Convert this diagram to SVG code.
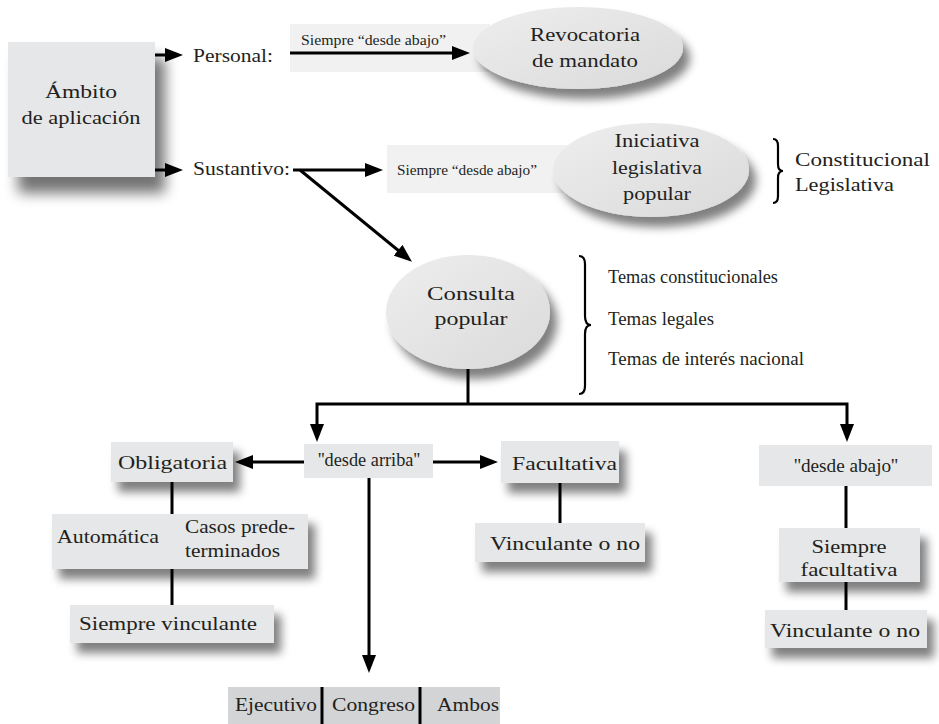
<svg xmlns="http://www.w3.org/2000/svg" width="939" height="724" viewBox="0 0 939 724">
<style>
text{font-family:"Liberation Serif","DejaVu Serif",serif;fill:#231f20;font-size:19px}
.s{font-size:15px}
.t{font-size:18px}
.box{fill:#e6e7e8}
.lbl{fill:#f1f1f2}
.dark{fill:#d3d4d6}
.ell{fill:url(#eg)}
.c{stroke:#000;stroke-width:3;fill:none}
.br{stroke:#000;stroke-width:2.2;fill:none}
.m{text-anchor:middle}
</style>
<defs>
<linearGradient id="eg" x1="0" y1="0" x2="1" y2="1">
<stop offset="0" stop-color="#eeeeef"/>
<stop offset="1" stop-color="#dadadb"/>
</linearGradient>
<filter id="sh" x="-20%" y="-30%" width="150%" height="180%">
<feGaussianBlur in="SourceAlpha" stdDeviation="5"/>
<feOffset dx="7" dy="10"/>
<feComponentTransfer><feFuncA type="linear" slope="0.5"/></feComponentTransfer>
<feMerge><feMergeNode/><feMergeNode in="SourceGraphic"/></feMerge>
</filter>
<filter id="shb" x="-20%" y="-20%" width="160%" height="160%">
<feGaussianBlur in="SourceAlpha" stdDeviation="7"/>
<feOffset dx="10" dy="16"/>
<feComponentTransfer><feFuncA type="linear" slope="0.55"/></feComponentTransfer>
<feMerge><feMergeNode/><feMergeNode in="SourceGraphic"/></feMerge>
</filter>
<marker id="ah" viewBox="0 0 18 14" markerWidth="18" markerHeight="14" refX="9" refY="7" orient="auto-start-reverse" markerUnits="userSpaceOnUse">
<path d="M0,0 L18,7 L0,14 z" fill="#000"/>
</marker>
</defs>
<rect width="939" height="724" fill="#fff"/>

<g id="ambito">
<rect x="8" y="42" width="147" height="135" class="box" filter="url(#shb)"/>
<text x="81" y="98" class="m" textLength="72" lengthAdjust="spacingAndGlyphs">Ámbito</text>
<text x="81" y="124" class="m" textLength="119" lengthAdjust="spacingAndGlyphs">de aplicación</text>
</g>

<g id="personal"><text x="193" y="62" textLength="80" lengthAdjust="spacingAndGlyphs">Personal:</text></g>
<g id="sustantivo"><text x="193" y="175" textLength="97" lengthAdjust="spacingAndGlyphs">Sustantivo:</text></g>

<g id="label-revocatoria">
<rect x="290" y="24" width="200" height="48" class="lbl"/>
<text x="301" y="45" class="s" textLength="145" lengthAdjust="spacingAndGlyphs">Siempre “desde abajo”</text>
</g>
<g id="label-iniciativa">
<rect x="387" y="145" width="180" height="48" class="lbl"/>
<text x="397" y="175" class="s" textLength="140" lengthAdjust="spacingAndGlyphs">Siempre “desde abajo”</text>
</g>

<g id="connectors">
<path class="c" d="M155,55 H174" marker-end="url(#ah)"/>
<path class="c" d="M155,170 H174" marker-end="url(#ah)"/>
<path class="c" d="M290,53 H461" marker-end="url(#ah)"/>
<path class="c" d="M293,170 H374" marker-end="url(#ah)"/>
<path class="c" d="M300,170 L405,256" marker-end="url(#ah)"/>
<path class="c" d="M468,369 V404"/>
<path class="c" d="M317,433 V404 H847 V433" marker-start="url(#ah)" marker-end="url(#ah)"/>
<path class="c" d="M304,462 H244" marker-end="url(#ah)"/>
<path class="c" d="M433,462 H489" marker-end="url(#ah)"/>
<path class="c" d="M369,478 V664" marker-end="url(#ah)"/>
<path class="c" d="M172,482 V514"/>
<path class="c" d="M172,569 V605"/>
<path class="c" d="M560,483 V523"/>
<path class="c" d="M846,486 V528"/>
<path class="c" d="M846,582 V610"/>
</g>

<g id="revocatoria">
<ellipse cx="578" cy="48" rx="105" ry="41" class="ell" filter="url(#sh)"/>
<text x="585" y="41" class="m" textLength="110" lengthAdjust="spacingAndGlyphs">Revocatoria</text>
<text x="585" y="67" class="m" textLength="106" lengthAdjust="spacingAndGlyphs">de mandato</text>
</g>

<g id="iniciativa">
<ellipse cx="651" cy="170" rx="98" ry="47" class="ell" filter="url(#sh)"/>
<text x="657" y="147" class="m" textLength="85" lengthAdjust="spacingAndGlyphs">Iniciativa</text>
<text x="657" y="174" class="m" textLength="90" lengthAdjust="spacingAndGlyphs">legislativa</text>
<text x="657" y="200" class="m" textLength="68" lengthAdjust="spacingAndGlyphs">popular</text>
</g>

<g id="iniciativa-tipos">
<path class="br" d="M773,139 Q778,139 778,146 L778,164 Q778,171 783,171 Q778,171 778,178 L778,196 Q778,203 773,203"/>
<text x="795" y="166" textLength="135" lengthAdjust="spacingAndGlyphs">Constitucional</text>
<text x="795" y="191" textLength="99" lengthAdjust="spacingAndGlyphs">Legislativa</text>
</g>

<g id="consulta">
<ellipse cx="468" cy="312" rx="82" ry="57" class="ell" filter="url(#sh)"/>
<text x="471" y="300" class="m" textLength="88" lengthAdjust="spacingAndGlyphs">Consulta</text>
<text x="471" y="325" class="m" textLength="73" lengthAdjust="spacingAndGlyphs">popular</text>
</g>

<g id="consulta-temas">
<path class="br" d="M579,256 Q585,256 585,264 L585,316 Q585,325 591,325 Q585,325 585,334 L585,386 Q585,394 579,394"/>
<text x="608" y="283" class="t" textLength="170" lengthAdjust="spacingAndGlyphs">Temas constitucionales</text>
<text x="608" y="325" class="t" textLength="106" lengthAdjust="spacingAndGlyphs">Temas legales</text>
<text x="608" y="365" class="t" textLength="196" lengthAdjust="spacingAndGlyphs">Temas de interés nacional</text>
</g>

<g id="desde-arriba">
<rect x="304" y="444" width="129" height="34" class="box"/>
<text x="369" y="466" class="m t" textLength="102" lengthAdjust="spacingAndGlyphs">''desde arriba''</text>
</g>

<g id="obligatoria">
<rect x="111" y="442" width="122" height="40" class="box" filter="url(#sh)"/>
<text x="118" y="469" textLength="109" lengthAdjust="spacingAndGlyphs">Obligatoria</text>
</g>

<g id="automatica">
<rect x="52" y="514" width="256" height="55" class="box" filter="url(#sh)"/>
<text x="57" y="543" textLength="102" lengthAdjust="spacingAndGlyphs">Automática</text>
<text x="185" y="533" textLength="110" lengthAdjust="spacingAndGlyphs">Casos prede-</text>
<text x="185" y="557" textLength="95" lengthAdjust="spacingAndGlyphs">terminados</text>
</g>

<g id="siempre-vinculante">
<rect x="70" y="605" width="204" height="38" class="box" filter="url(#sh)"/>
<text x="79" y="630" textLength="178" lengthAdjust="spacingAndGlyphs">Siempre vinculante</text>
</g>

<g id="facultativa">
<rect x="501" y="441" width="118" height="42" class="box" filter="url(#sh)"/>
<text x="512" y="470" textLength="105" lengthAdjust="spacingAndGlyphs">Facultativa</text>
</g>

<g id="vinculante-1">
<rect x="475" y="523" width="170" height="39" class="box" filter="url(#sh)"/>
<text x="490" y="550" textLength="150" lengthAdjust="spacingAndGlyphs">Vinculante o no</text>
</g>

<g id="desde-abajo">
<rect x="759" y="445" width="173" height="41" class="box"/>
<text x="846" y="472" class="m t" textLength="104" lengthAdjust="spacingAndGlyphs">''desde abajo''</text>
</g>

<g id="siempre-facultativa">
<rect x="779" y="528" width="141" height="54" class="box" filter="url(#sh)"/>
<text x="849" y="553" class="m" textLength="75" lengthAdjust="spacingAndGlyphs">Siempre</text>
<text x="849" y="576" class="m" textLength="97" lengthAdjust="spacingAndGlyphs">facultativa</text>
</g>

<g id="vinculante-2">
<rect x="765" y="610" width="162" height="38" class="box" filter="url(#sh)"/>
<text x="770" y="637" textLength="150" lengthAdjust="spacingAndGlyphs">Vinculante o no</text>
</g>

<g id="iniciadores">
<rect x="228" y="687" width="272" height="37" class="dark"/>
<path class="c" d="M322,687 V724 M420,687 V724"/>
<text x="235" y="711" textLength="82" lengthAdjust="spacingAndGlyphs">Ejecutivo</text>
<text x="332" y="711" textLength="83" lengthAdjust="spacingAndGlyphs">Congreso</text>
<text x="437" y="711" textLength="62" lengthAdjust="spacingAndGlyphs">Ambos</text>
</g>
</svg>
